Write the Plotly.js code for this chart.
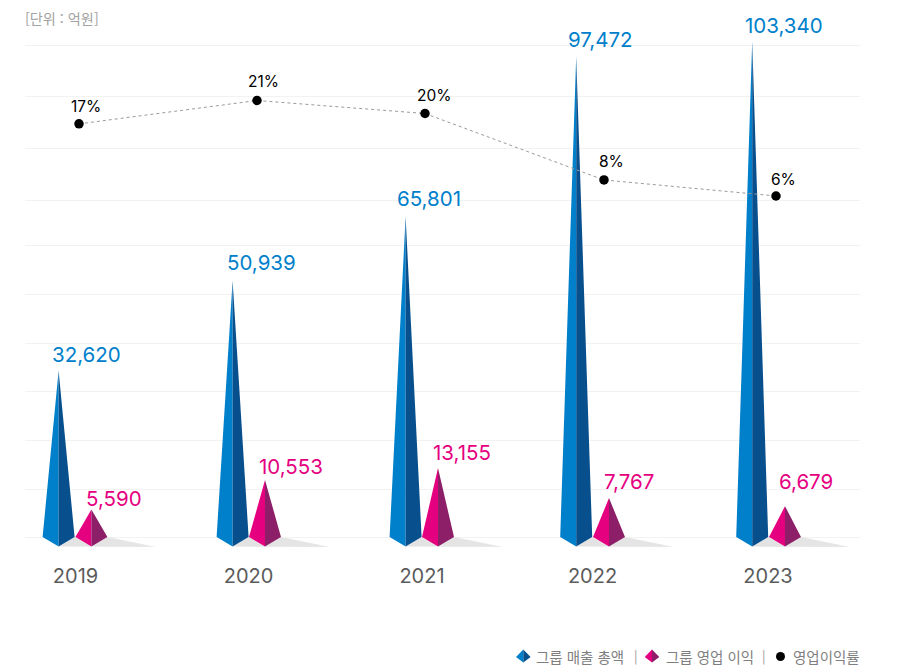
<!DOCTYPE html>
<html lang="ko">
<head>
<meta charset="utf-8">
<script src="https://cdn.plot.ly/plotly-3.0.1.min.js"></script>
<style>html,body{margin:0;padding:0;background:#fff}#c{width:901px;height:667px}</style>
</head>
<body>
<div id="c"></div>
<script>
// ---- data ----
const years = [2019, 2020, 2021, 2022, 2023];
const salesLabels = ['32,620', '50,939', '65,801', '97,472', '103,340'];
const profitLabels = ['5,590', '10,553', '13,155', '7,767', '6,679'];
const rateLabels = ['17%', '21%', '20%', '8%', '6%'];
// heights of the spikes and of the rate dots as drawn in the picture, in axis units
const salesLevel = [33900, 52200, 65200, 97650, 100700];
const profitLevel = [5800, 11750, 14200, 8100, 6450];
const rateLevel = [18.15, 22.32, 20.0, 8.13, 5.27];

// ---- layout constants ----
const W = 901, H = 667, L = 25, R = 860, T = 10, B = 560;
const pxPerYear = 173.25, year0Px = 75.5;
const zeroPx = 538, pxPerUnit = 49.3 / 10000;
const ratePxPerPoint = 5.6, rateRefPx = 113.5, rateRef = 20;

const toX = p => years[0] + (p - year0Px) / pxPerYear;
const dU = p => p / pxPerUnit;               // pixels -> y axis units
const xRange = [toX(L), toX(R)];
const yRange = [-dU(B - zeroPx), dU(zeroPx - T)];
const y2Range = [rateRef - (B - rateRefPx) / ratePxPerPoint, rateRef + (rateRefPx - T) / ratePxPerPoint];

// placement nudges (px)
const gridPx = [537.5, 489, 440.5, 391.5, 343.5, 294.5, 245.5, 200.5, 148.5, 96.5, 45.5];
const salesCx = [58.6, 232.6, 405.6, 576.2, 752.2];
const profitCx = [91.4, 265, 438, 609, 785];
const tickPx = [75.5, 248.5, 422, 592.5, 768];
const ratePx = [79, 257, 425, 604, 776];
const salesLabelDx = [28, 29, 23, 24.5, 32];
const salesLabelDy = [16, 18, 18, 17, 16];
const profitLabelDx = [22.5, 26, 23.5, 20, 21];
const profitLabelDy = [11, 14, 15, 17, 25];
const rateLabelDx = [7, 6, 9, 7, 7];
const rateLabelDy = [17, 19.5, 18.5, 18, 16];

const halfW = 16, cornerUp = 1, frontDown = 8.6;
const BLUE_L = '#0080cb', BLUE_R = '#084f8d', PINK_L = '#e5007f', PINK_R = '#8c1f67';
const FONT = 'Inter, "Noto Sans CJK KR", sans-serif';

function faces(cxs, levels, side) {
  const xs = [], ys = [];
  cxs.forEach((c, i) => {
    xs.push(toX(c), toX(c + side * halfW), toX(c), toX(c), null);
    ys.push(levels[i], dU(cornerUp), -dU(frontDown), levels[i], null);
  });
  return {x: xs, y: ys};
}
function face(name, cxs, levels, side, color) {
  const f = faces(cxs, levels, side);
  return {type: 'scatter', mode: 'lines', x: f.x, y: f.y, fill: 'toself', fillcolor: color,
          line: {width: 0, color: color}, hoverinfo: 'skip', showlegend: false, name: name};
}

const traces = [];
// floor shadows
years.forEach((yr, i) => {
  traces.push({
    type: 'scatter', mode: 'lines', hoverinfo: 'skip', showlegend: false, name: 'shadow ' + yr,
    x: [salesCx[i], salesCx[i] + halfW, profitCx[i], profitCx[i] + halfW, profitCx[i] + 65, salesCx[i]].map(toX),
    y: [-dU(frontDown), dU(cornerUp), -dU(frontDown), dU(cornerUp), -dU(frontDown + 0.4), -dU(frontDown)],
    fill: 'toself', line: {width: 0, color: 'rgba(0,0,0,0)'},
    fillgradient: {type: 'horizontal', colorscale: [[0, '#e2e2e2'], [0.88, '#e6e6e6'], [1, '#f0f0f0']]}
  });
});
traces.push(face('그룹 매출 총액 L', salesCx, salesLevel, -1, BLUE_L));
traces.push(face('그룹 매출 총액 R', salesCx, salesLevel, 1, BLUE_R));
traces.push(face('그룹 영업 이익 L', profitCx, profitLevel, -1, PINK_L));
traces.push(face('그룹 영업 이익 R', profitCx, profitLevel, 1, PINK_R));
traces.push({
  type: 'scatter', mode: 'lines+markers', name: '영업이익률', yaxis: 'y2', hoverinfo: 'skip', showlegend: false,
  x: ratePx.map(toX), y: rateLevel,
  line: {color: '#9a9a9a', width: 1, dash: '3px 3px'},
  marker: {color: '#000', size: 9.5, line: {width: 0}}
});

const annotations = [];
function valueLabel(text, x, y, yref, dx, dy, size, color) {
  annotations.push({text, x, y, xref: 'x', yref, xanchor: 'center', yanchor: 'middle', showarrow: false,
    xshift: dx, yshift: dy, font: {family: FONT, size, color}});
}
years.forEach((yr, i) => {
  valueLabel(salesLabels[i], toX(salesCx[i]), salesLevel[i], 'y', salesLabelDx[i], salesLabelDy[i], 20.5, '#0080cb');
  valueLabel(profitLabels[i], toX(profitCx[i]), profitLevel[i], 'y', profitLabelDx[i], profitLabelDy[i], 20.5, '#e5007f');
  valueLabel(rateLabels[i], toX(ratePx[i]), rateLevel[i], 'y2', rateLabelDx[i], rateLabelDy[i], 15.5, '#000');
});

const px = p => (p - L) / (R - L);
const py = p => (B - p) / (B - T);
function pageText(text, left, cy, size, color) {
  annotations.push({text, x: px(left), y: py(cy), xref: 'paper', yref: 'paper', xanchor: 'left', yanchor: 'middle',
    showarrow: false, xshift: 0, font: {family: '"Noto Sans CJK KR", sans-serif', size, color}});
}
pageText('[단위 : 억원]', 23, 18, 14.2, '#a2a2a2');
const LEG_Y = 656;
pageText('그룹 매출 총액', 534, LEG_Y, 14.5, '#7f7f7f');
pageText('|', 632, LEG_Y - 1, 13, '#9a9a9a');
pageText('그룹 영업 이익', 664, LEG_Y, 14.5, '#7f7f7f');
pageText('|', 760, LEG_Y - 1, 13, '#9a9a9a');
pageText('영업이익률', 791, LEG_Y, 14.5, '#7f7f7f');

function kite(cx, side, color) {
  const d = `M${px(cx)} ${py(649.5)} L${px(cx + side * 7.3)} ${py(657)} L${px(cx)} ${py(662.5)} Z`;
  return {type: 'path', xref: 'paper', yref: 'paper', path: d, fillcolor: color, line: {width: 0}, layer: 'above'};
}
const shapes = [
  kite(523.3, -1, BLUE_L), kite(523.3, 1, BLUE_R),
  kite(652, -1, PINK_L), kite(652, 1, PINK_R),
  {type: 'circle', xref: 'paper', yref: 'paper', x0: px(776), x1: px(785), y0: py(652), y1: py(661),
   fillcolor: '#000', line: {width: 0}}
];

const layout = {
  width: W, height: H, showlegend: false, autosize: false,
  margin: {l: L, r: W - R, t: T, b: H - B, pad: 0},
  paper_bgcolor: '#fff', plot_bgcolor: '#fff',
  font: {family: FONT},
  xaxis: {range: xRange, showgrid: false, zeroline: false, showline: false, ticks: '',
    tickmode: 'array', tickvals: tickPx.map(toX), ticktext: years.map(String),
    tickfont: {family: FONT, size: 20, color: '#5c5c5c'}, ticklabelstandoff: 2, fixedrange: true},
  yaxis: {range: yRange, tickmode: 'array', tickvals: gridPx.map(p => dU(zeroPx - p)), showticklabels: false, ticks: '',
    showgrid: true, gridcolor: '#f2f2f2', gridwidth: 1, zeroline: false, showline: false, fixedrange: true},
  yaxis2: {range: y2Range, overlaying: 'y', side: 'right', showgrid: false, showticklabels: false,
    zeroline: false, showline: false, ticks: '', fixedrange: true},
  annotations, shapes
};
Plotly.newPlot('c', traces, layout, {displayModeBar: false, staticPlot: true, responsive: false});
</script>
</body>
</html>
